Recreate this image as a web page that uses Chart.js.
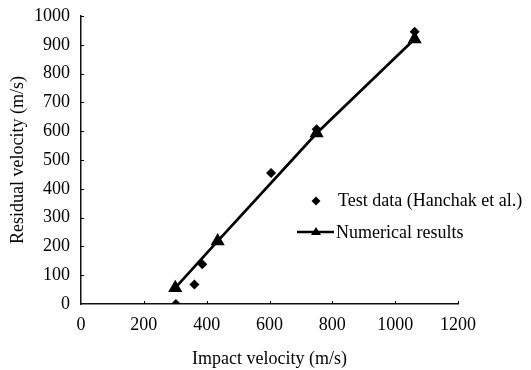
<!DOCTYPE html>
<html>
<head>
<meta charset="utf-8">
<script src="https://cdn.jsdelivr.net/npm/chart.js@4/dist/chart.umd.min.js"></script>
<style>
  html, body { margin: 0; padding: 0; background: #fff; }
  #wrap { width: 531px; height: 370px; }
</style>
</head>
<body>
<div id="wrap"><canvas id="velChart" width="531" height="370"></canvas></div>
<script>
// test data (Hanchak et al.)
const testImpact   = [302, 361, 386, 605, 750, 1062];
const testResidual = [0, 68, 138, 455, 607, 945];
// numerical results
const numImpact   = [300, 435, 750, 1062];
const numResidual = [56, 218, 593, 920];

const xTicks = [0, 200, 400, 600, 800, 1000, 1200];
const yTicks = [0, 100, 200, 300, 400, 500, 600, 700, 800, 900, 1000];

const serif = "'Liberation Serif', 'Times New Roman', serif";
const fs = 18;

// legend sits inside the plot, drawn by hand like the original
const insideLegend = {
  id: 'insideLegend',
  afterDraw(chart) {
    const ctx = chart.ctx, a = chart.chartArea;
    const mx = a.left + 235, tx = a.left + 257;
    ctx.save();
    ctx.fillStyle = '#000';
    ctx.strokeStyle = '#000';
    ctx.font = fs + 'px ' + serif;
    ctx.textBaseline = 'middle';
    // diamond
    const y1 = a.top + 185;
    ctx.beginPath();
    ctx.moveTo(mx, y1 - 4.5); ctx.lineTo(mx + 4.5, y1); ctx.lineTo(mx, y1 + 4.5); ctx.lineTo(mx - 4.5, y1);
    ctx.closePath(); ctx.fill();
    ctx.fillText('Test data (Hanchak et al.)', tx, y1);
    // line + triangle
    const y2 = a.top + 216;
    ctx.lineWidth = 2.5;
    ctx.beginPath(); ctx.moveTo(mx - 19, y2); ctx.lineTo(mx + 18, y2); ctx.stroke();
    ctx.beginPath();
    ctx.moveTo(mx, y2 - 5); ctx.lineTo(mx + 5, y2 + 3); ctx.lineTo(mx - 5, y2 + 3);
    ctx.closePath(); ctx.fill();
    ctx.fillText('Numerical results', tx - 2, y2 + 1);
    // small inside tick marks
    ctx.lineWidth = 1;
    const xs = chart.scales.x, ys = chart.scales.y;
    xTicks.slice(1).forEach(v => {
      const px = Math.round(xs.getPixelForValue(v)) + 0.5;
      ctx.beginPath(); ctx.moveTo(px, a.bottom); ctx.lineTo(px, a.bottom - 3); ctx.stroke();
    });
    yTicks.slice(1).forEach(v => {
      const py = Math.round(ys.getPixelForValue(v)) + 0.5;
      ctx.beginPath(); ctx.moveTo(a.left, py); ctx.lineTo(a.left + 3, py); ctx.stroke();
    });
    ctx.restore();
  }
};

new Chart(document.getElementById('velChart'), {
  type: 'scatter',
  data: {
    datasets: [
      { label: 'Test data (Hanchak et al.)', data: testImpact.map((x, i) => ({ x, y: testResidual[i] })),
        pointStyle: 'rectRot', pointRadius: 5, backgroundColor: '#000', borderColor: '#000', borderWidth: 0, showLine: false, order: 1 },
      { label: 'Numerical results', data: numImpact.map((x, i) => ({ x, y: numResidual[i] })),
        pointStyle: 'triangle', pointRadius: 5.5, backgroundColor: '#000', borderColor: '#000', borderWidth: 2.7, showLine: true, tension: 0, order: 2 }
    ]
  },
  options: {
    responsive: false, animation: false,
    layout: { padding: { left: 0, right: 73, top: 16, bottom: 0 } },
    plugins: { legend: { display: false }, tooltip: { enabled: false } },
    scales: {
      x: {
        type: 'linear', min: 0, max: 1200,
        afterFit: s => { s.height = 66; },
        afterBuildTicks: s => { s.ticks = xTicks.map(v => ({ value: v })); },
        grid: { display: false, drawTicks: false },
        border: { display: true, color: '#111', width: 1.5 },
        ticks: { color: '#000', padding: 10, maxRotation: 0, font: { family: serif, size: fs }, callback: v => String(v) },
        title: { display: true, text: 'Impact velocity (m/s)', color: '#000', padding: { top: 0, bottom: 0 }, font: { family: serif, size: fs } }
      },
      y: {
        type: 'linear', min: 0, max: 1000,
        afterFit: s => { s.width = 81; s.paddingTop = 0; s.paddingBottom = 0; },
        afterBuildTicks: s => { s.ticks = yTicks.map(v => ({ value: v })); },
        grid: { display: false, drawTicks: false },
        border: { display: true, color: '#111', width: 1.5 },
        ticks: { color: '#000', padding: 11, font: { family: serif, size: fs }, callback: v => String(v) },
        title: { display: true, text: 'Residual velocity (m/s)', color: '#000', padding: { top: 7, bottom: 0 }, font: { family: serif, size: fs } }
      }
    }
  },
  plugins: [insideLegend]
});
</script>
</body>
</html>
